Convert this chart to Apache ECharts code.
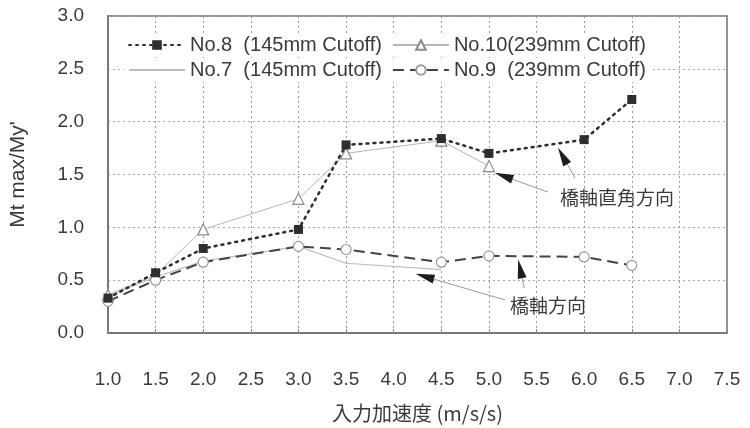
<!DOCTYPE html>
<html><head><meta charset="utf-8">
<script src="https://cdn.jsdelivr.net/npm/echarts@6/dist/echarts.min.js"></script>
<style>html,body{margin:0;padding:0;background:#fff}#c{width:750px;height:428px}</style>
</head><body><div id="c"></div>
<script>
// ---- data ----
const xTicks = [1.0,1.5,2.0,2.5,3.0,3.5,4.0,4.5,5.0,5.5,6.0,6.5,7.0,7.5];
const yTicks = [0.0,0.5,1.0,1.5,2.0,2.5,3.0];
const x8  = [1.0,1.5,2.0,3.0,3.5,4.5,5.0,6.0,6.5];
const no8 = [0.33,0.57,0.80,0.98,1.78,1.84,1.70,1.83,2.21];
const x10 = [1.0,1.5,2.0,3.0,3.5,4.5,5.0];
const no10 = [0.36,0.55,0.98,1.27,1.70,1.82,1.58];
const x7  = [1.0,1.5,2.0,3.0,3.5,4.5];
const no7 = [0.35,0.53,0.68,0.82,0.66,0.60];
const x9  = [1.0,1.5,2.0,3.0,3.5,4.5,5.0,6.0,6.5];
const no9 = [0.30,0.50,0.67,0.82,0.79,0.67,0.73,0.72,0.64];
const names = ['No.8  (145mm Cutoff)','No.10(239mm Cutoff)','No.7  (145mm Cutoff)','No.9  (239mm Cutoff)'];
const xName = '入力加速度 (m/s/s)';
const yName = "Mt max/My'";
const noteCross = '橋軸直角方向';
const noteAxial = '橋軸方向';

// annotation arrows: [start, head-center, rotation]
const arrows = [
  {from:[5.62,1.334], to:[5.154,1.485], rot:70},
  {from:[5.905,1.466], to:[5.773,1.676], rot:29},
  {from:[5.37,0.426], to:[5.328,0.607], rot:12},
  {from:[5.17,0.312], to:[4.326,0.535], rot:74}
];

const pair = (xs, ys) => xs.map((x,i)=>[x,ys[i]]);
const FONT = '"Liberation Sans", Arial, sans-serif';
const CJK = '"Noto Sans CJK JP", "Liberation Sans", sans-serif';
const TXT = '#3a3a3a';
const legendText = {fontFamily:FONT, fontSize:20, color:TXT, width:195};

const chart = echarts.init(document.getElementById('c'));
chart.setOption({
  animation:false,
  backgroundColor:'#fff',
  grid:{left:108, right:23, top:16, bottom:95, show:true, borderColor:'#6f6f6f', borderWidth:1.5},
  legend:[
    {data:[names[0],names[1]], left:124, top:33, itemWidth:56, itemHeight:12, itemGap:10,
     backgroundColor:'#fff', padding:[2,4], textStyle:legendText},
    {data:[{name:names[2], itemStyle:{opacity:0}},names[3]], left:124, top:58, itemWidth:56, itemHeight:12, itemGap:10,
     backgroundColor:'#fff', padding:[2,4], textStyle:legendText}
  ],
  xAxis:{type:'value', min:1, max:7.5, interval:0.5,
    name:xName, nameLocation:'middle', nameGap:70,
    nameTextStyle:{fontFamily:CJK, fontSize:20, color:TXT},
    axisLine:{lineStyle:{color:'#6f6f6f', width:1.5}},
    axisTick:{show:true, inside:true, length:4, lineStyle:{color:'#888'}},
    axisLabel:{fontFamily:FONT, fontSize:19, color:TXT, margin:37, formatter:v=>v.toFixed(1)},
    splitLine:{show:true, lineStyle:{color:'#9a9a9a', type:[2,3], width:1}}},
  yAxis:{type:'value', min:0, max:3, interval:0.5,
    name:yName, nameLocation:'middle', nameGap:79,
    nameTextStyle:{fontFamily:FONT, fontSize:21, color:TXT},
    axisLine:{show:true, lineStyle:{color:'#6f6f6f', width:1.5}},
    axisTick:{show:false},
    axisLabel:{fontFamily:FONT, fontSize:19, color:TXT, margin:24, formatter:v=>v.toFixed(1)},
    splitLine:{show:true, lineStyle:{color:'#a8a8a8', type:[2,3], width:1}}},
  series:[
    {name:names[0], type:'line', data:pair(x8,no8), symbol:'rect', symbolSize:9,
     itemStyle:{color:'#2e2e2e'}, lineStyle:{color:'#2e2e2e', width:2.5, type:[2,5], cap:'round'}, z:5},
    {name:names[1], type:'line', data:pair(x10,no10), symbol:'triangle', symbolSize:11,
     itemStyle:{color:'#fff', borderColor:'#8a8a8a', borderWidth:1.2}, lineStyle:{color:'#b5b5b5', width:1}, z:4},
    {name:names[2], type:'line', data:pair(x7,no7), symbol:'none',
     itemStyle:{color:'#bdbdbd'}, lineStyle:{color:'#bdbdbd', width:1.2}, z:3},
    {name:names[3], type:'line', data:pair(x9,no9), symbol:'circle', symbolSize:10,
     itemStyle:{color:'#fff', borderColor:'#9a9a9a', borderWidth:1.2},
     lineStyle:{color:'#444', width:2, type:[11,6]}, z:4,
     markLine:{silent:true, symbol:['none','none'], label:{show:false},
       lineStyle:{color:'#9a9a9a', width:1, type:'solid'},
       data: arrows.map(a=>[{coord:a.from},{coord:a.to}])},
     markPoint:{silent:true, label:{show:false},
       data: arrows.map(a=>({coord:a.to, symbol:'triangle', symbolSize:[9,19], symbolRotate:a.rot,
          itemStyle:{color:'#1e1e1e'}}))}
    }
  ],
  graphic:[
    {type:'text', left:560, top:188, style:{text:noteCross, font:'19px '+CJK, fill:TXT}},
    {type:'text', left:510, top:296, style:{text:noteAxial, font:'19px '+CJK, fill:TXT}}
  ]
});
</script></body></html>
